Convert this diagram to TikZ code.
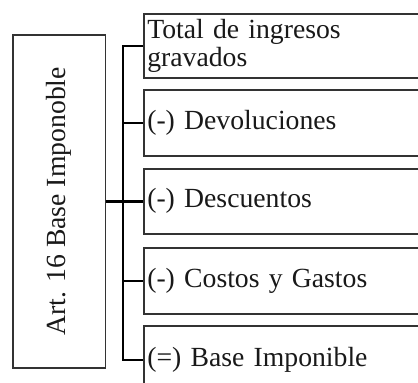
\documentclass[tikz,border=0pt]{standalone}
\usepackage{fontspec}
\setmainfont{Liberation Serif}
\begin{document}
\begin{tikzpicture}[x=1pt,y=-1pt,
  boxline/.style={draw=black!80,line width=1.6pt},
  rbox/.style={boxline,anchor=north west,minimum width=290pt,text width=283pt,
    inner sep=1.5pt,align=left,font=\fontsize{27.7}{28.5}\selectfont,text=black!90},
  conn/.style={draw=black,line width=2.4pt},
  vtext/.style={font=\fontsize{27.7}{28.5}\selectfont,text=black!90,rotate=90}]
\useasboundingbox (0,0) rectangle (418,383);
\clip (0,0) rectangle (418,383);
\node[boxline,anchor=north west,minimum width=92.7pt,minimum height=333pt,inner sep=0pt] (L) at (12,34) {};
\node[vtext] (Lt) at (L.center) {Art. 16 Base Imponoble};
\node[rbox,minimum height=64pt] (b1) at (143,13) {Total de ingresos\\gravados};
\node[rbox,minimum height=66pt] (b2) at (143,89) {(-) Devoluciones};
\node[rbox,minimum height=65pt] (b3) at (143,168) {(-) Descuentos};
\node[rbox,minimum height=66pt] (b4) at (143,247) {(-) Costos y Gastos};
\node[rbox,minimum height=68pt] (b5) at (143,325) {(=) Base Imponible};
\coordinate (j) at (123,201);
\draw[conn] (b1.west) -| (j) |- (b5.west);
\draw[conn] (L.east) -- (b3.west);
\draw[conn] (b2.west) -- (b2.west -| j);
\draw[conn] (b4.west) -- (b4.west -| j);
\end{tikzpicture}
\end{document}
